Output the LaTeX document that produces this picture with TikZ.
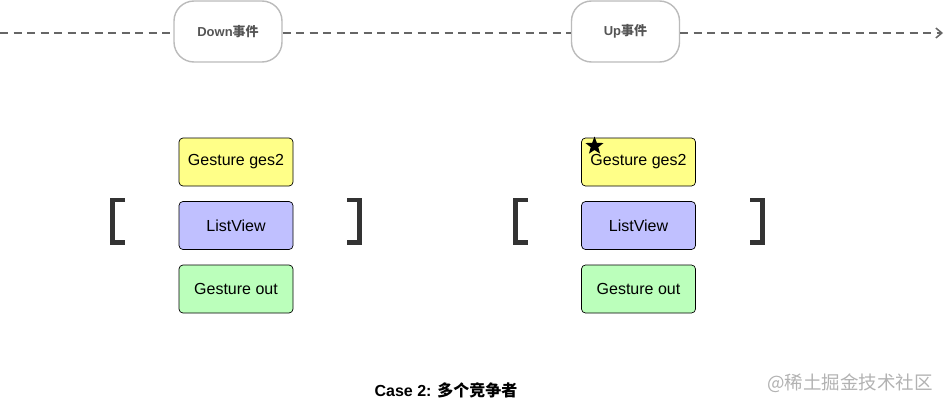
\documentclass[tikz,border=0pt]{standalone}
\usepackage{fontspec}
\setmainfont{Liberation Sans}
\newfontfamily\cjk{Noto Sans CJK SC}
\usetikzlibrary{shapes.geometric,arrows.meta}
\definecolor{evgray}{HTML}{666666}
\definecolor{evborder}{HTML}{BBBBBB}
\definecolor{evtext}{HTML}{555555}
\definecolor{boxyellow}{HTML}{FFFF88}
\definecolor{boxblue}{HTML}{C0C0FF}
\definecolor{boxgreen}{HTML}{BBFFBB}
\definecolor{brk}{HTML}{333333}
\tikzset{
  evnode/.style={draw=evborder, line width=1.4pt, rounded corners=20pt, fill=white,
    minimum width=108pt, minimum height=61pt, inner sep=0pt,
    font=\fontsize{13}{15}\selectfont\bfseries, text=evtext},
  gbox/.style={draw=black, line width=0.7pt, rounded corners=4pt,
    minimum width=114pt, minimum height=48pt, inner sep=0pt,
    font=\fontsize{16}{18}\selectfont},
  timeline/.style={evgray, line width=1.6pt, dash pattern=on 8pt off 5.5pt},
  bracket/.style={brk, line width=4.5pt},
}
\begin{document}
\begin{tikzpicture}[x=1pt,y=-1pt]
\useasboundingbox (0,0) rectangle (946,407);
% event nodes
\node[evnode] (down) at (228,31.5) {Down{\cjk\bfseries 事件}};
\node[evnode] (up) at (625.5,31.5) {Up{\cjk\bfseries 事件}};
\coordinate (start) at (0,33);
\coordinate (end) at (943,33);
\draw[timeline] (start) -- (down.west |- start);
\draw[timeline] (down.east |- start) -- (up.west |- start);
\draw[timeline, -{Straight Barb[length=6pt,width=10pt,line width=1.5pt]}] (up.east |- start) -- (end);
% left group
\node[gbox, fill=boxyellow] (g1) at (236,162) {Gesture ges2};
\node[gbox, fill=boxblue] (l1) at (236,225.5) {ListView};
\node[gbox, fill=boxgreen] (o1) at (236,289) {Gesture out};
% right group
\node[gbox, fill=boxyellow] (g2) at (638.5,162) {Gesture ges2};
\node[gbox, fill=boxblue] (l2) at (638.5,225.5) {ListView};
\node[gbox, fill=boxgreen] (o2) at (638.5,289) {Gesture out};
% star
\node[star, star points=5, star point ratio=2.4, fill=black, inner sep=0pt, minimum size=19pt] (st) at (594.5,146) {};
% brackets
\draw[bracket] (125,200) -- (112.5,200) -- (112.5,242.5) -- (125,242.5);
\draw[bracket] (347,200) -- (359.5,200) -- (359.5,242.5) -- (347,242.5);
\draw[bracket] (528,200) -- (515.5,200) -- (515.5,242.5) -- (528,242.5);
\draw[bracket] (750,200) -- (762.5,200) -- (762.5,242.5) -- (750,242.5);
% caption
\node[font=\fontsize{16}{18}\selectfont\bfseries] (cap) at (446,390) {Case 2: {\cjk\bfseries 多个竞争者}};
\node[font=\fontsize{18.5}{20}\selectfont\cjk, text=black!30] (wm) at (850,383) {@稀土掘金技术社区};
\end{tikzpicture}
\end{document}
